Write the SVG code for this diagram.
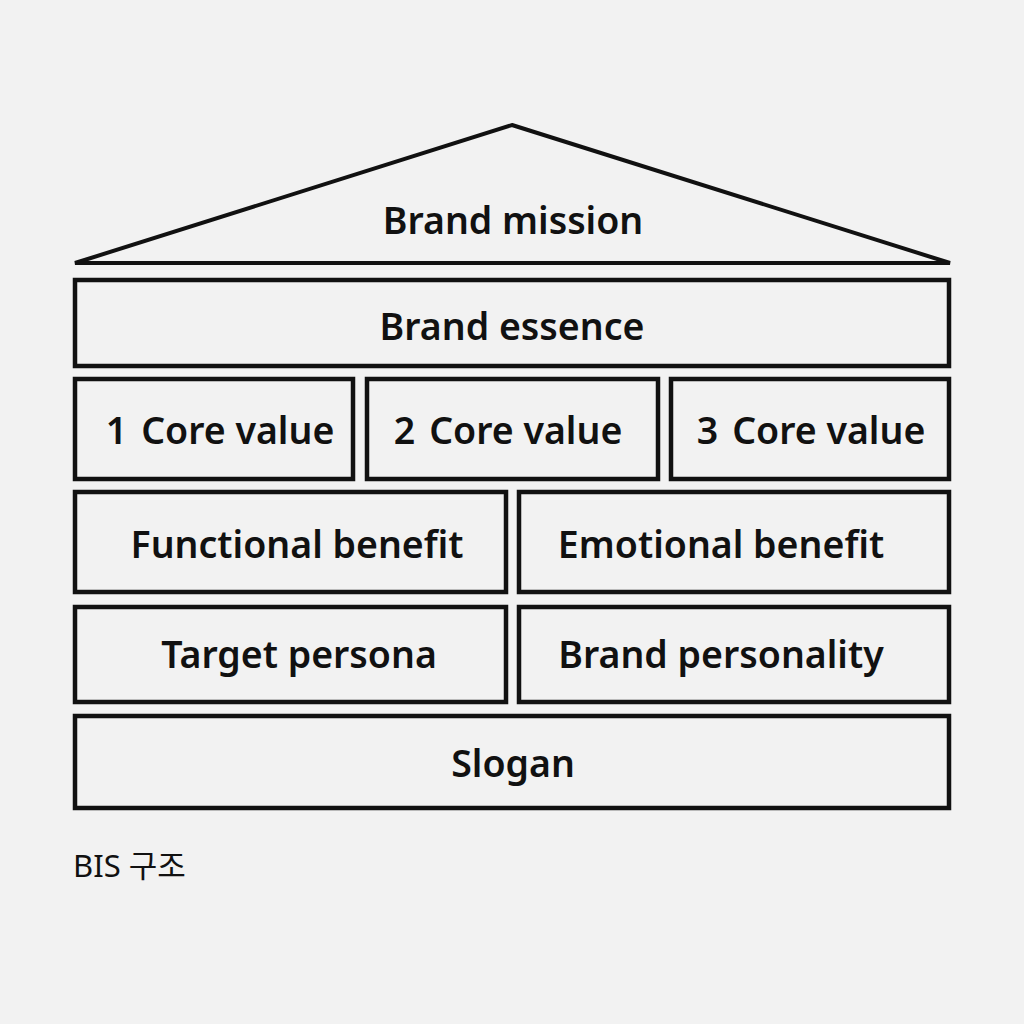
<svg xmlns="http://www.w3.org/2000/svg" width="1024" height="1024" viewBox="0 0 1024 1024">
<style>
.box{fill:none;stroke:#111;stroke-width:4.5}
.roof{fill:none;stroke:#111;stroke-width:4;stroke-linejoin:miter}
.lbl{font-family:"Noto Sans","Liberation Sans",sans-serif;font-weight:600;font-size:37.5px;fill:#111;text-anchor:middle}
.cap{font-family:"Noto Sans","Noto Sans CJK KR",sans-serif;font-size:31px;fill:#111}
</style>
<rect width="1024" height="1024" fill="#f2f2f2"/>
<g id="mission">
<polygon class="roof" points="512,125 950,263 75,263"/>
<text class="lbl" x="513" y="234">Brand mission</text>
</g>
<g id="essence">
<rect class="box" x="75" y="280" width="874" height="86"/>
<text class="lbl" x="512" y="340">Brand essence</text>
</g>
<g id="core1">
<rect class="box" x="75" y="379" width="278" height="100"/>
<text class="lbl" x="220" y="444">1<tspan dx="14">Core value</tspan></text>
</g>
<g id="core2">
<rect class="box" x="367" y="379" width="291" height="100"/>
<text class="lbl" x="508" y="444">2<tspan dx="14">Core value</tspan></text>
</g>
<g id="core3">
<rect class="box" x="671" y="379" width="278" height="100"/>
<text class="lbl" x="811" y="444">3<tspan dx="14">Core value</tspan></text>
</g>
<g id="functional">
<rect class="box" x="75" y="492" width="431" height="100"/>
<text class="lbl" x="297" y="558">Functional benefit</text>
</g>
<g id="emotional">
<rect class="box" x="519" y="492" width="430" height="100"/>
<text class="lbl" x="721" y="558">Emotional benefit</text>
</g>
<g id="persona">
<rect class="box" x="75" y="607" width="431" height="95"/>
<text class="lbl" x="299" y="668">Target persona</text>
</g>
<g id="personality">
<rect class="box" x="519" y="607" width="430" height="95"/>
<text class="lbl" x="721" y="668">Brand personality</text>
</g>
<g id="slogan">
<rect class="box" x="75" y="716" width="874" height="92"/>
<text class="lbl" x="513" y="777">Slogan</text>
</g>
<g id="connectors"></g>
<text class="cap" x="73" y="877">BIS 구조</text>
</svg>
